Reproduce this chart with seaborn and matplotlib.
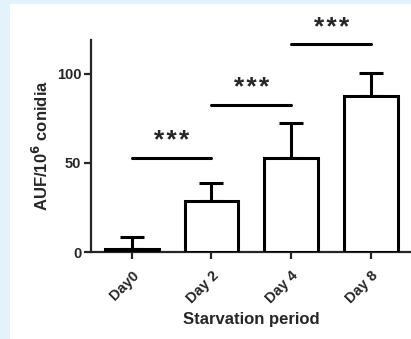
import matplotlib
matplotlib.use("Agg")
import matplotlib.pyplot as plt
import seaborn as sns
import pandas as pd

days = ["Day0", "Day 2", "Day 4", "Day 8"]
means = [1.8, 28.5, 52.8, 87.3]
errs = [6.6, 10.2, 19.7, 12.9]

# significance brackets: (left bar, right bar, line height)
sig_left = [0, 1, 2]
sig_right = [1, 2, 3]
sig_y = [53, 82.4, 116.5]
sig_text = ["*\u200a*\u200a*"] * 3

df = pd.DataFrame({"day": days, "auf": means})

sns.set_style("ticks")
plt.rcParams["font.family"] = ["Liberation Sans", "DejaVu Sans"]
plt.rcParams["font.weight"] = "bold"

fig = plt.figure(figsize=(4.11, 3.39), dpi=100, facecolor="#e3f2fb")
fig.patches.append(plt.Rectangle((10 / 411, 0), 1, 1 - 4 / 339, transform=fig.transFigure,
                                 facecolor="white", edgecolor="none", zorder=-5))
ax = fig.add_axes([91 / 411, (339 - 252) / 339, (411 - 91) / 411, (252 - 40) / 339])
ax.set_facecolor("none")

sns.barplot(data=df, x="day", y="auf", color="white", edgecolor="black",
            linewidth=2.2, width=0.675, ax=ax, zorder=3)
ax.errorbar(range(len(days)), means, yerr=[[0] * 4, errs], fmt="none",
            ecolor="black", elinewidth=2.2, capsize=8.5, capthick=2.2, zorder=2)

for l, r, y, t in zip(sig_left, sig_right, sig_y, sig_text):
    ax.plot([l, r], [y, y], color="black", lw=2.2, clip_on=False)
    ax.text((l + r) / 2, y + 9.5, t, ha="center", va="center", fontsize=19,
            fontweight="bold", clip_on=False)

ax.set_xlim(-0.51, 3.5)
ax.set_ylim(0, 119)
ax.set_yticks([0, 50, 100])
sns.despine(ax=ax)
for s in ["left", "bottom"]:
    ax.spines[s].set_linewidth(1.6)
ax.tick_params(axis="both", width=1.6, length=5, labelsize=10.5, pad=2)
ax.tick_params(axis="x", pad=7)
plt.setp(ax.get_xticklabels(), rotation=45, ha="right", rotation_mode="anchor",
         fontweight="bold")
plt.setp(ax.get_yticklabels(), fontweight="bold")
ax.set_xlabel("Starvation period", fontsize=12, fontweight="bold", labelpad=4)
ax.set_ylabel("AUF/10$^{\\mathbf{6}}$ conidia", fontsize=12, fontweight="bold", labelpad=4)

fig.savefig("out.png", dpi=100, facecolor=fig.get_facecolor())
